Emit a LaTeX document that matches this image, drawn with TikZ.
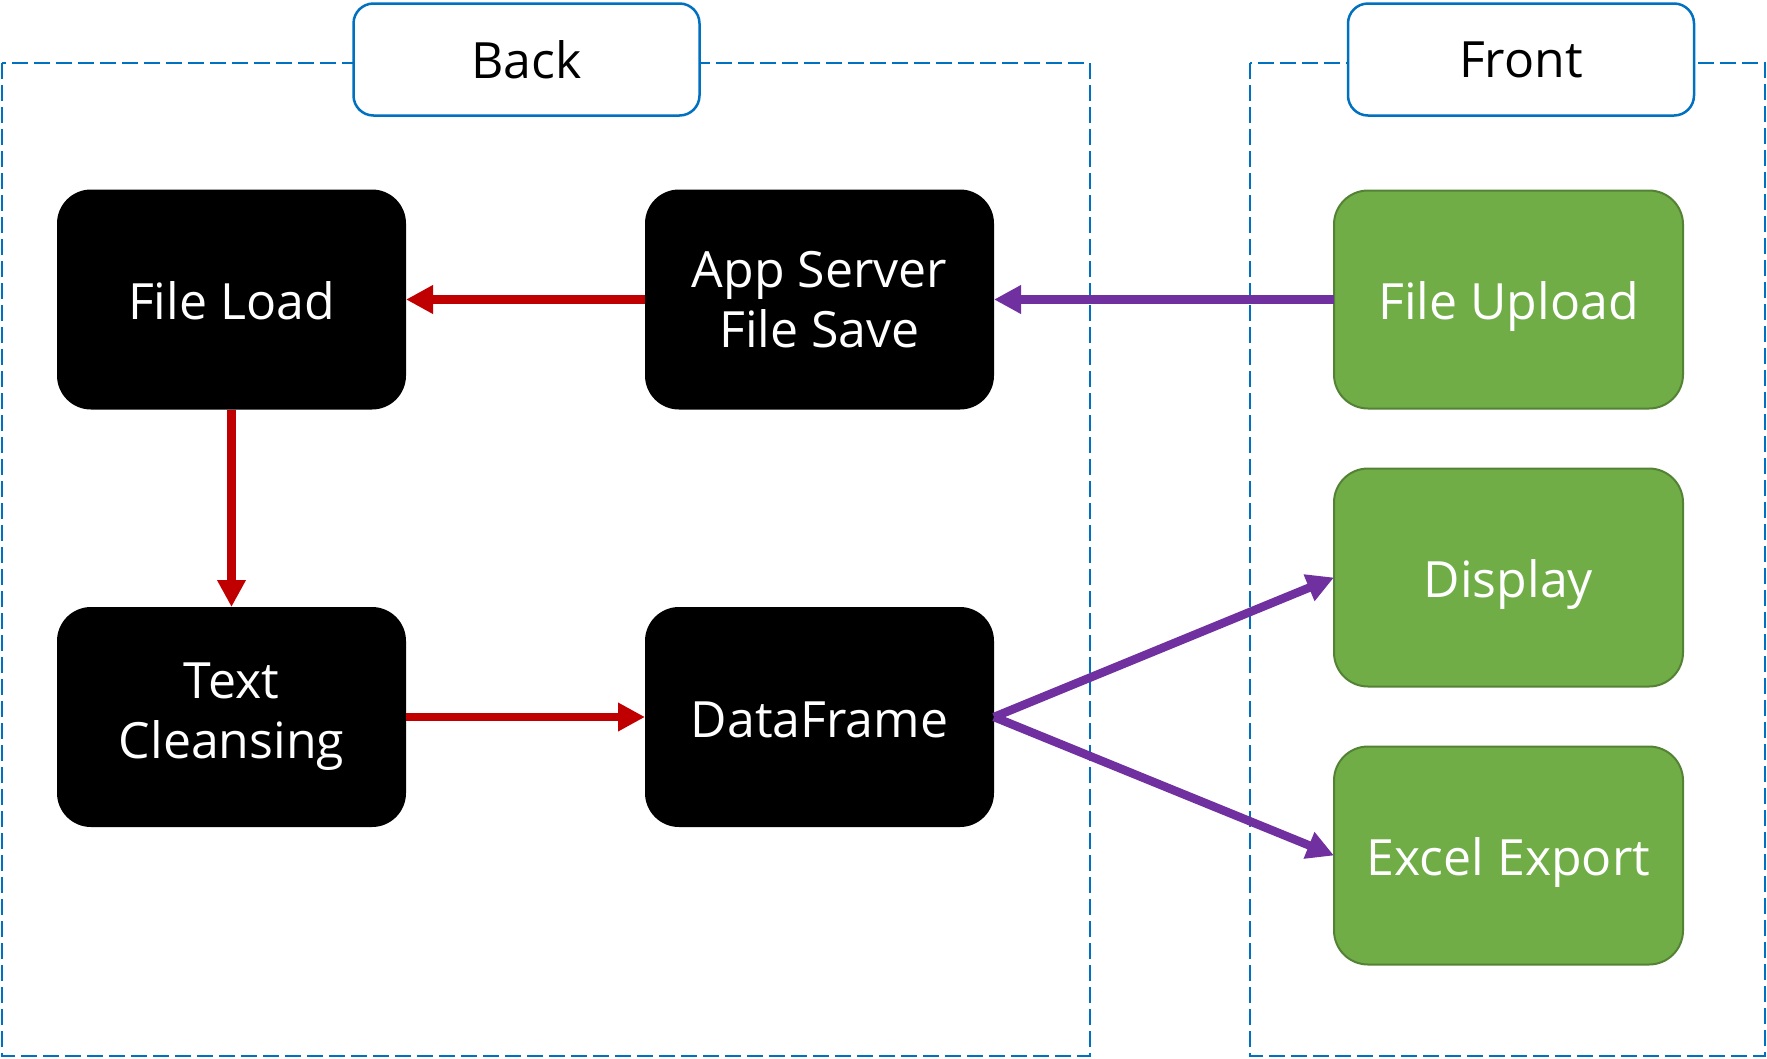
\documentclass[tikz,border=0pt]{standalone}
\usepackage{fontspec}
\setmainfont{Open Sans}
\usetikzlibrary{arrows.meta,positioning}
\definecolor{zoneblue}{HTML}{0070C0}
\definecolor{leafgreen}{HTML}{70AD47}
\definecolor{leafedge}{HTML}{548235}
\definecolor{flowred}{HTML}{C00000}
\definecolor{flowpurple}{HTML}{7030A0}

\begin{document}
\begin{tikzpicture}[x=1pt,y=-1pt,>={Triangle[length=27pt,width=27pt]},
    node distance=278pt and 588pt,on grid,
    back/.style={fill=black,text=white,rounded corners=34pt,outer sep=0pt,
      minimum width=349pt,minimum height=220pt,align=center,
      font=\fontsize{50}{60}\selectfont},
    front/.style={back,fill=leafgreen,draw=leafedge,line width=2pt,
      minimum width=349pt,minimum height=218pt},
    solo/.style={text height=40pt,text depth=0pt},
    tag/.style={draw=zoneblue,fill=white,line width=2.5pt,rounded corners=20pt,
      minimum width=346pt,minimum height=112pt,font=\fontsize{50}{60}\selectfont},
    zone/.style={draw=zoneblue,line width=2pt,dash pattern=on 16pt off 6pt},
    flow/.style={->,line width=8.5pt}]
    \useasboundingbox (0,0) rectangle (1767,1058);

    % dashed zones
    \draw[zone] (2,63) rectangle (1090,1056);
    \draw[zone] (1250,63) rectangle (1765,1056);
    \node[tag] (back)  at (526.5,59.5) {Back};
    \node[tag] (front) at (1521,59.5)  {Front};

    % back side
    \node[back,solo] (load)  at (231.5,299.5)        {File Load};
    \node[back]      (save)  [right=of load]         {App Server\\File Save};
    \node[back]      (clean) [below=417.5pt of load] {Text\\Cleansing};
    \node[back,solo] (frame) [right=of clean]        {DataFrame};

    % front side
    \node[front,solo] (upload)  at (1508.5,299.5)  {File Upload};
    \node[front,solo] (display) [below=of upload]  {Display};
    \node[front,solo] (export)  [below=of display] {Excel Export};

    \path[flow,flowred]
        (save)  edge (load)
        (load)  edge (clean)
        (clean) edge (frame);
    \path[flow,flowpurple]
        (upload)     edge (save)
        (frame.east) edge (display.west)
        (frame.east) edge (export.west);
\end{tikzpicture}
\end{document}
